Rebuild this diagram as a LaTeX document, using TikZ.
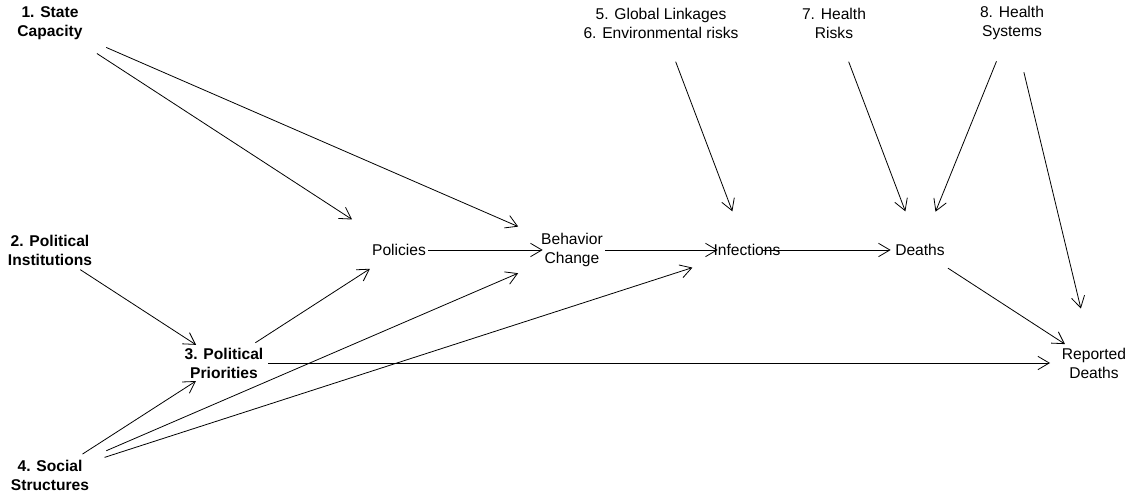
\documentclass[tikz,border=0pt]{standalone}
\usepackage{fontspec}
\setmainfont{Liberation Sans}
\usetikzlibrary{arrows.meta}
\begin{document}
\begin{tikzpicture}[x=0.75pt, y=-0.75pt,
  factor/.style={inner sep=0pt, outer sep=0pt, align=center,
                 font=\fontsize{11.7}{14.3}\selectfont\bfseries},
  var/.style={inner sep=0pt, outer sep=0pt, align=center,
              font=\fontsize{11.7}{14.3}\selectfont},
  arrow/.style={-{Straight Barb[length=8.5pt,width=10pt]}, line width=0.6pt}
]
  \useasboundingbox (0,0) rectangle (1132,498);

  % Political factors
  \node[factor] (cap)  at (50,23)  {1. State\\Capacity};
  \node[factor] (inst) at (50,250) {2. Political\\Institutions};
  \node[factor] (pri)  at (224,363) {3. Political\\Priorities};
  \node[factor] (soc)  at (50,475) {4. Social\\Structures};

  % Outcome chain
  \node[var] (pol) at (399,250) {Policies};
  \node[var] (beh) at (572,250) {Behavior\\Change};
  \node[var] (inf) at (747,250) {Infections};
  \node[var] (dea) at (920,250) {Deaths};
  \node[var] (rep) at (1094,363) {Reported\\Deaths};

  % Other factors
  \node[var] (glo) at (661,23)  {5. Global Linkages\\6. Environmental risks};
  \node[var] (hr)  at (834,23)  {7. Health\\Risks};
  \node[var] (hs)  at (1012,23) {8. Health\\Systems};

  % Arrows
  \draw[arrow, shorten <=42pt, shorten >=42pt] (cap.center) -- (pol.center);
  \draw[arrow, shorten <=46pt, shorten >=44pt] (cap.center) -- (beh.center);
  \draw[arrow, shorten <=27pt, shorten >=25pt] (inst.center) -- (pri.center);
  \draw[arrow, shorten <=29pt, shorten >=25pt] (soc.center) -- (pri.center);
  \draw[arrow, shorten <=46pt, shorten >=44pt] (soc.center) -- (beh.center);
  \draw[arrow, shorten <=43pt, shorten >=43pt] (soc.center) -- (inf.center);
  \draw[arrow, shorten <=28pt, shorten >=26pt] (pri.center) -- (pol.center);
  \draw[arrow, shorten <=33pt, shorten >=33pt] (pri.center) -- (rep.center);
  \draw[arrow, shorten <=22pt, shorten >=22pt] (pol.center) -- (beh.center);
  \draw[arrow, shorten <=25pt, shorten >=22pt] (beh.center) -- (inf.center);
  \draw[arrow, shorten <=12pt, shorten >=22pt] (inf.center) -- (dea.center);
  \draw[arrow, shorten <=31pt, shorten >=31pt] (glo.center) -- (inf.center);
  \draw[arrow, shorten <=31pt, shorten >=31pt] (hr.center) -- (dea.center);
  \draw[arrow, shorten <=31pt, shorten >=31pt] (hs.center) -- (dea.center);
  \draw[arrow, shorten <=38pt, shorten >=42pt] (hs.center) -- (rep.center);
  \draw[arrow, shorten <=25pt, shorten >=26pt] (dea.center) -- (rep.center);
\end{tikzpicture}
\end{document}
